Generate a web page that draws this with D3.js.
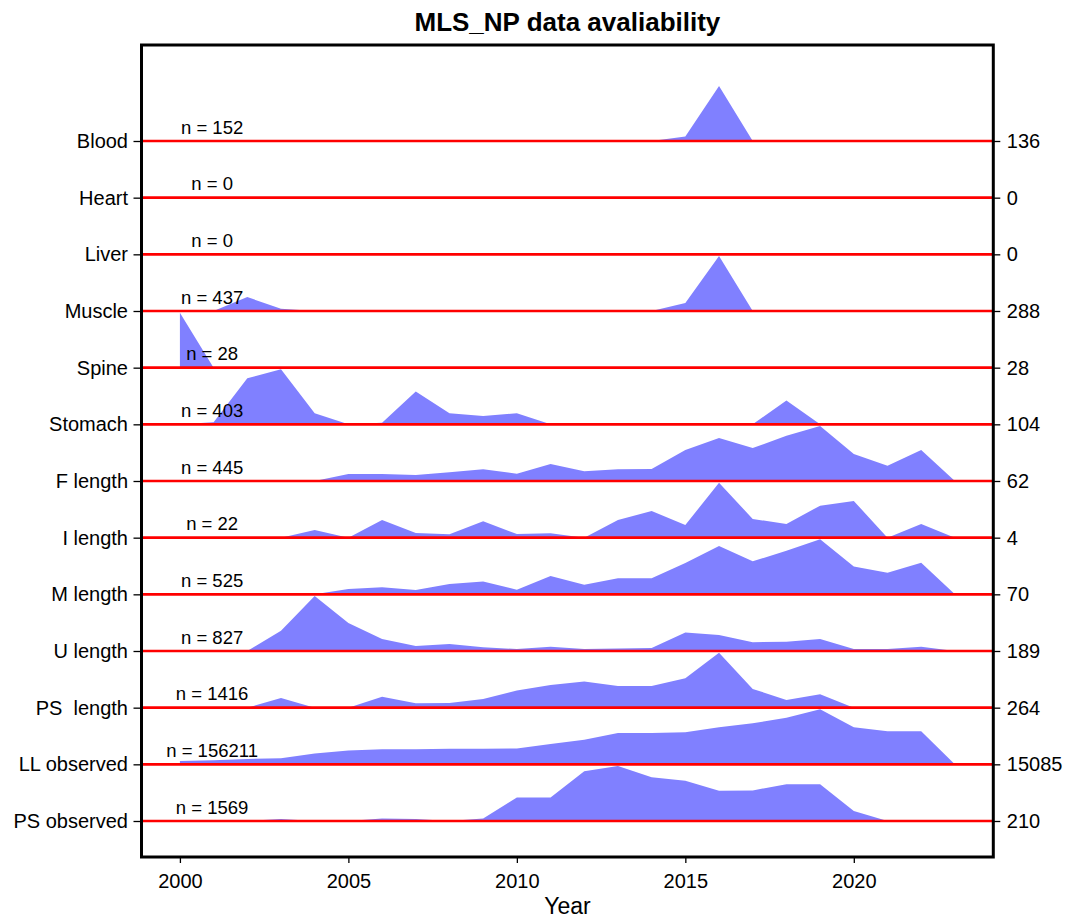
<!DOCTYPE html>
<html>
<head>
<meta charset="utf-8">
<script src="https://cdn.jsdelivr.net/npm/d3@7"></script>
<style>
  html, body { margin: 0; padding: 0; background: #fff; }
  svg text { font-family: "Liberation Sans", Arial, sans-serif; fill: #000; white-space: pre; }
</style>
</head>
<body>
<svg id="chart" width="1067" height="919"></svg>
<script>
// Data types, one ridge row each (top to bottom)
const categories = ["Blood", "Heart", "Liver", "Muscle", "Spine", "Stomach",
  "F length", "I length", "M length", "U length", "PS  length", "LL observed", "PS observed"];

const years = d3.range(2000, 2024);

// Yearly amounts, 2000 .. 2023
const blood      = [0,0,0,0,0,0,0,0,0,0,0,0,0,0,0,11,136,0,0,0,0,0,0,0];
const heart      = [0,0,0,0,0,0,0,0,0,0,0,0,0,0,0,0,0,0,0,0,0,0,0,0];
const liver      = [0,0,0,0,0,0,0,0,0,0,0,0,0,0,0,0,0,0,0,0,0,0,0,0];
const muscle     = [0,0,73,12,0,0,0,0,0,0,0,0,0,0,0,42,288,0,0,0,0,0,0,0];
const spine      = [28,0,0,0,0,0,0,0,0,0,0,0,0,0,0,0,0,0,0,0,0,0,0,0];
const stomach    = [0,4,87,104,21,0,3,62,21,16,21,0,0,0,0,0,0,0,45,0,0,0,0,0];
const fLength    = [0,0,0,0,0,7.9,7.9,6.8,9.8,13.2,8.3,19.2,10.9,13.2,13.5,35,48.5,37.2,51,62,30.4,17.3,35,0];
const iLength    = [0,0,0,0,0.56,0,1.28,0.34,0.24,1.19,0.27,0.32,0,1.28,1.94,0.92,4,1.36,1,2.33,2.67,0,1,0];
const mLength    = [0,0,0,0,0,6.8,8.9,5.5,13.2,16.5,5.9,23.3,12.3,20.4,20.4,39.9,61.5,42,55.6,70,35.6,27.6,40.3,0];
const uLength    = [0,0,0,70,189,96,41,17,24,12.6,7,15,7,9,10,64,55,30,32,41,7,7,15,0];
const psLength   = [0,0,0,46,0,0,53,21,22,42,82,109,126,104,104,141,264,90,37,64,0,0,0,0];
const llObserved = [925,1110,1480,1665,2960,3790,4160,4160,4255,4255,4350,5550,6750,8600,8600,8790,10175,11285,12765,15085,10175,9065,9065,0];
const psObserved = [0,0,0,8,0,0,10,8,0,10,90,90,190,210,167,154,116,117,140,140,38,0,0,0];

const series = [blood, heart, liver, muscle, spine, stomach, fLength, iLength,
  mLength, uLength, psLength, llObserved, psObserved];

// Row maxima (right axis) and record counts (n labels)
const maxLabels = [136, 0, 0, 288, 28, 104, 62, 4, 70, 189, 264, 15085, 210];
const nCounts   = [152, 0, 0, 437, 28, 403, 445, 22, 525, 827, 1416, 156211, 1569];

const xTicks = [2000, 2005, 2010, 2015, 2020];

const svg = d3.select("#chart");
const box = { left: 141.5, right: 993.3, top: 45, bottom: 857 };

const x = d3.scaleLinear().domain([1998.86, 2024.14]).range([box.left, box.right]);
const y = d3.scalePoint().domain(categories).range([141, 821]);
const ridgeHeight = y.step() * 0.97;

// Ridge areas
const gAreas = svg.append("g");
categories.forEach((cat, i) => {
  const maxV = maxLabels[i];
  if (!(maxV > 0)) return;
  const h = d3.scaleLinear().domain([0, maxV]).range([0, ridgeHeight]);
  const base = y(cat);
  const area = d3.area()
    .x((d, j) => x(years[j]))
    .y0(base)
    .y1(d => base - h(d));
  gAreas.append("path")
    .datum(series[i])
    .attr("d", area)
    .attr("fill", "#8080ff")
    .attr("stroke", "none");
});

// Baselines
svg.append("g").selectAll("line")
  .data(categories)
  .join("line")
  .attr("x1", box.left).attr("x2", box.right)
  .attr("y1", d => y(d)).attr("y2", d => y(d))
  .attr("stroke", "#ff0000")
  .attr("stroke-width", 2.6);

// n labels
svg.append("g").selectAll("text")
  .data(categories)
  .join("text")
  .attr("x", x(2001) - 1.5)
  .attr("y", d => y(d) - 7.5)
  .attr("text-anchor", "middle")
  .attr("font-size", "18.5px")
  .text((d, i) => "n = " + nCounts[i]);

// Axes
function styleAxis(g, size) {
  g.select(".domain").remove();
  g.selectAll(".tick line").attr("stroke", "#000").attr("stroke-width", 1.3);
  g.selectAll(".tick text").attr("font-size", size).attr("fill", "#000")
    .style("font-family", "'Liberation Sans', Arial, sans-serif");
}

svg.append("g")
  .attr("transform", `translate(${box.left},0)`)
  .call(d3.axisLeft(y).tickSize(8).tickPadding(5.5))
  .call(g => styleAxis(g, "20px"));

svg.append("g")
  .attr("transform", `translate(${box.right},0)`)
  .call(d3.axisRight(y).tickSize(7).tickPadding(6.5)
    .tickFormat((d, i) => String(maxLabels[i])))
  .call(g => styleAxis(g, "20px"));

svg.append("g")
  .attr("transform", `translate(0,${box.bottom})`)
  .call(d3.axisBottom(x).tickValues(xTicks).tickSize(6).tickPadding(10.5)
    .tickFormat(d3.format("d")))
  .call(g => styleAxis(g, "20px"));

// Frame
svg.append("rect")
  .attr("x", box.left).attr("y", box.top)
  .attr("width", box.right - box.left).attr("height", box.bottom - box.top)
  .attr("fill", "none").attr("stroke", "#000").attr("stroke-width", 3);

// Title and axis title
svg.append("text")
  .attr("x", (box.left + box.right) / 2).attr("y", 31)
  .attr("text-anchor", "middle")
  .attr("font-size", "26px").attr("font-weight", "bold")
  .text("MLS_NP data avaliability");

svg.append("text")
  .attr("x", (box.left + box.right) / 2).attr("y", 914)
  .attr("text-anchor", "middle")
  .attr("font-size", "23px")
  .text("Year");
</script>
</body>
</html>
